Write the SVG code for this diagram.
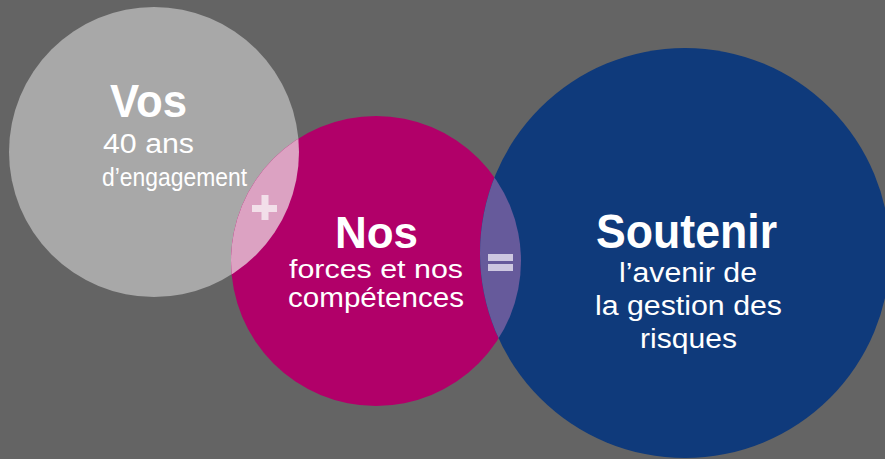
<svg xmlns="http://www.w3.org/2000/svg" width="885" height="459" viewBox="0 0 885 459">
<style>
.t{font-family:"Liberation Sans",Arial,sans-serif;fill:#ffffff;}
.h{font-weight:bold;}
.b{font-size:27px;}
</style>
<defs>
<clipPath id="cMag"><circle cx="376" cy="261" r="145"/></clipPath>
</defs>
<rect width="885" height="459" fill="#646464"/>
<g id="vos">
<circle cx="154" cy="152" r="145" fill="#a8a8a8"/>
</g>
<g id="nos">
<circle cx="376" cy="261" r="145" fill="#b10069"/>
</g>
<g id="soutenir">
<circle cx="685" cy="253" r="205" fill="#0f3a7b"/>
</g>
<g id="overlaps">
<circle cx="154" cy="152" r="145" fill="#dca2c2" clip-path="url(#cMag)"/>
<g clip-path="url(#cMag)"><circle cx="685" cy="253" r="205" fill="#665a9b"/></g>
</g>
<g id="connectors">
<g id="plus" fill="#f2dfe9">
<rect x="252" y="205" width="25" height="7"/>
<rect x="261.5" y="195" width="7" height="25"/>
</g>
<g id="equals" fill="#cdc7e0">
<rect x="488" y="254" width="25" height="7"/>
<rect x="488" y="264" width="25" height="7"/>
</g>
</g>
<g id="vos-text">
<text class="t h" x="110" y="117" font-size="47" textLength="77" lengthAdjust="spacingAndGlyphs">Vos</text>
<text class="t b" x="103" y="153" textLength="91" lengthAdjust="spacingAndGlyphs">40 ans</text>
<text class="t" x="102" y="186" font-size="25" textLength="145" lengthAdjust="spacingAndGlyphs">d’engagement</text>
</g>
<g id="nos-text">
<text class="t h" x="335" y="248" font-size="45" textLength="83" lengthAdjust="spacingAndGlyphs">Nos</text>
<text class="t" x="289" y="278" font-size="26" textLength="174" lengthAdjust="spacingAndGlyphs">forces et nos</text>
<text class="t b" x="288" y="307" textLength="176" lengthAdjust="spacingAndGlyphs">compétences</text>
</g>
<g id="soutenir-text">
<text class="t h" x="596" y="248" font-size="48" textLength="181" lengthAdjust="spacingAndGlyphs">Soutenir</text>
<text class="t b" x="619" y="282" textLength="138" lengthAdjust="spacingAndGlyphs">l’avenir de</text>
<text class="t b" x="595" y="315" textLength="187" lengthAdjust="spacingAndGlyphs">la gestion des</text>
<text class="t b" x="640" y="348" textLength="97" lengthAdjust="spacingAndGlyphs">risques</text>
</g>
</svg>
